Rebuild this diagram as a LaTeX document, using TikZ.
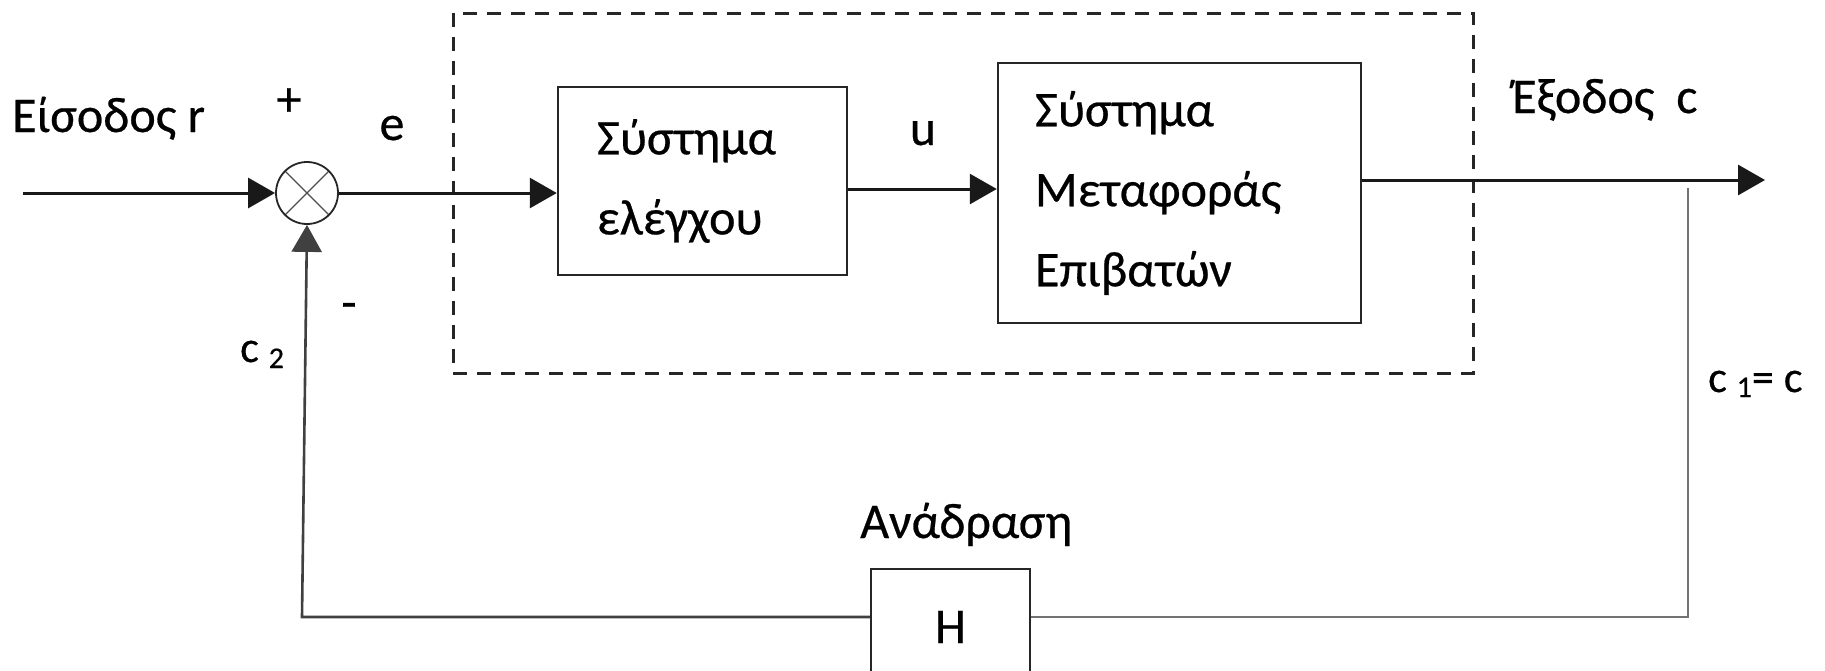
\documentclass[tikz,border=0pt]{standalone}
\usepackage{fontspec}
\setmainfont{Carlito}[UprightFeatures={FakeBold=0.5}]
\usetikzlibrary{arrows.meta,calc}
\begin{document}
\begin{tikzpicture}[x=1pt,y=-1pt,
  lbl/.style={font=\fontsize{50}{60}\selectfont, inner sep=0pt},
  sublbl/.style={font=\fontsize{44}{50}\selectfont, inner sep=0pt},
  blk/.style={draw=black!85, line width=2.5pt, font=\fontsize{50}{80}\selectfont, inner ysep=0pt},
  sumc/.style={circle, draw=black!85, line width=1.8pt, minimum size=62pt, inner sep=0pt,
    path picture={\draw[line width=1.2pt, black!70]
      (path picture bounding box.north west) -- (path picture bounding box.south east)
      (path picture bounding box.north east) -- (path picture bounding box.south west);}},
  conn/.style={line width=3pt, draw=black!90},
  fbline/.style={line width=2.6pt, draw=black!75},
  tapline/.style={line width=2.6pt, draw=black!55},
  tip/.style={-{Triangle[length=27pt,width=30pt]}},
  dashbox/.style={line width=3pt, draw=black!85, dash pattern=on 14pt off 10pt}
]
\useasboundingbox (0,0) rectangle (1825,670);
\clip (0,0) rectangle (1825,670);

% controller enclosure
\draw[dashbox] (453,13) rectangle (1473,373);

% blocks
\node[sumc] (sum) at (307,193) {};
\node[blk, align=left, minimum width=289pt, minimum height=188pt,
      text width=211pt, inner xsep=39pt] (ctrl) at (702.5,181) {Σύστημα\\ελέγχου};
\node[blk, align=left, minimum width=363pt, minimum height=260pt,
      text width=289pt, inner xsep=37pt] (plant) at (1179.5,193) {Σύστημα\\Μεταφοράς\\Επιβατών};
\node[blk, align=center, minimum width=159pt, minimum height=116pt] (H) at (950.5,627) {H};

% free ends and corners
\coordinate (in) at (23,193);
\coordinate (out) at (1765,180);
\coordinate (tap) at (1688,188);
\coordinate (br) at (1688,617);
\coordinate (bl) at (302,617);

% forward path
\draw[conn,tip] (in) -- (sum.west);
\draw[conn,tip] (sum.east) -- (sum.east -| ctrl.west);
\draw[conn,tip] ([yshift=-8pt]ctrl.east) -- ([yshift=-8pt]ctrl.east -| plant.west);
\draw[conn,tip] (plant.east |- out) -- (out);

% feedback path
\draw[tapline] (tap) -- (br) -- (H.east |- br);
\draw[fbline,tip] (H.west |- br) -- (bl) -- (sum.south);

% labels
\node[lbl, anchor=base west] (lin) at (12,132) {Είσοδος r};
\node[lbl] (plus) at (289,102) {+};
\node[lbl, anchor=base] (le) at (392,140) {e};
\node[lbl] (minus) at (349,311) {-};
\node[sublbl, anchor=base west] (lc2) at (240,362) {c \raisebox{-6pt}{\fontsize{30}{30}\selectfont 2}};
\node[lbl, anchor=base] (lu) at (923,145) {u};
\node[lbl, anchor=base west] (lout) at (1512,113) {Έξοδος\hspace{22pt}c};
\node[sublbl, anchor=base west] (lc1) at (1708,392) {c \raisebox{-5pt}{\fontsize{30}{30}\selectfont 1}= c};
\node[lbl, anchor=base west] (lfb) at (860,538) {Ανάδραση};
\end{tikzpicture}
\end{document}
